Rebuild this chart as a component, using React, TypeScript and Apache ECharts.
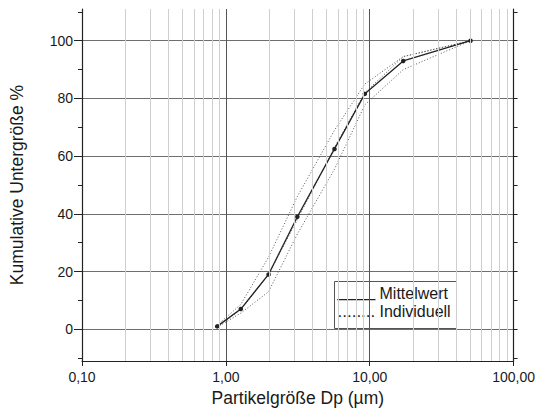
import React, { useEffect, useRef } from 'react';
import * as echarts from 'echarts';

// Particle sizes (µm) at which the cumulative undersize was measured
const sizes = [0.87, 1.27, 1.98, 3.14, 5.69, 9.25, 17.1, 50.2];
// Mean curve (Mittelwert), %
const mean = [1, 7, 19, 39, 62.5, 81.6, 93, 100];
// Individual measurements (Individuell), %
const indiv1 = [1.4, 8.6, 25, 46, 69, 85, 94.5, 100];
const indiv2 = [0.9, 6.8, 19, 38, 63, 82, 94.5, 100];
const indiv3 = [0.7, 5.6, 13, 33, 55.5, 77.8, 90, 100];

// Axis ticks / labels
const yLabelValues = [0, 20, 40, 60, 80, 100];
const yTickValues = [-10, 0, 10, 20, 30, 40, 50, 60, 70, 80, 90, 100, 110];
const minorGridX = [
  0.2, 0.3, 0.4, 0.5, 0.6, 0.7, 0.8, 0.9,
  2, 3, 4, 5, 6, 7, 8, 9,
  20, 30, 40, 50, 60, 70, 80, 90,
];

const FONT = "'Liberation Sans', Arial, Helvetica, sans-serif";

export default function App() {
  const ref = useRef<HTMLDivElement>(null);

  useEffect(() => {
    if (!ref.current) return;
    const chart = echarts.init(ref.current, null, { renderer: 'svg' });
    const toPairs = (arr: number[]) => sizes.map((s, i) => [s, arr[i]]);
    const dotted = {
      type: 'line',
      symbol: 'none',
      showSymbol: false,
      z: 3,
      silent: true,
      lineStyle: { color: '#555', width: 1, type: [1, 2] },
    };

    chart.setOption({
      animation: false,
      textStyle: { fontFamily: FONT },
      grid: { left: 78, right: 20, top: 9, bottom: 53, containLabel: false },
      xAxis: {
        type: 'log',
        logBase: 10,
        min: 0.1,
        max: 100,
        name: 'Partikelgröße Dp (µm)',
        nameLocation: 'middle',
        nameGap: 24,
        nameTextStyle: { fontSize: 17.5, color: '#1a1a1a', fontFamily: FONT },
        axisLine: { show: true, onZero: false, lineStyle: { color: '#222', width: 1.2 } },
        axisTick: { show: true, length: 5, lineStyle: { color: '#222' } },
        axisLabel: {
          fontSize: 14,
          color: '#1a1a1a',
          margin: 9,
          fontFamily: FONT,
          showMinLabel: true,
          showMaxLabel: true,
          formatter: (v: number) => Number(v).toFixed(2).replace('.', ','),
        },
        splitLine: { show: true, lineStyle: { color: '#555', width: 1 } },
      },
      yAxis: [
        {
          type: 'value',
          min: -11,
          max: 111,
          position: 'left',
          name: 'Kumulative Untergröße %',
          nameLocation: 'middle',
          nameGap: 56,
          nameTextStyle: { fontSize: 17.5, color: '#1a1a1a', fontFamily: FONT },
          axisLine: { show: true, lineStyle: { color: '#222', width: 1.2 } },
          axisTick: { show: true, length: 4, customValues: yTickValues, lineStyle: { color: '#222' } },
          axisLabel: { customValues: yLabelValues, fontSize: 14, color: '#1a1a1a', margin: 9, fontFamily: FONT },
          splitLine: { show: true, lineStyle: { color: ['rgba(0,0,0,0)', '#6e6e6e'], width: 1 } },
        },
        {
          type: 'value',
          min: -11,
          max: 111,
          position: 'left',
          axisLine: { show: false },
          axisTick: { show: true, length: 8, customValues: yLabelValues, lineStyle: { color: '#222' } },
          axisLabel: { show: false },
          splitLine: { show: false },
        },
        {
          type: 'value',
          min: -11,
          max: 111,
          position: 'right',
          axisLine: { show: true, lineStyle: { color: '#222', width: 1.2 } },
          axisTick: { show: true, length: 4, customValues: yTickValues, lineStyle: { color: '#222' } },
          axisLabel: { show: false },
          splitLine: { show: false },
        },
      ],
      series: [
        {
          type: 'line',
          data: [],
          z: 1,
          silent: true,
          markLine: {
            silent: true,
            animation: false,
            symbol: ['none', 'none'],
            label: { show: false },
            emphasis: { disabled: true },
            lineStyle: { color: '#cfcfcf', width: 1, type: 'solid' },
            data: minorGridX.map((v) => ({ xAxis: v })),
          },
        },
        { ...dotted, name: 'Individuell 1', data: toPairs(indiv1) },
        { ...dotted, name: 'Individuell 2', data: toPairs(indiv2) },
        { ...dotted, name: 'Individuell 3', data: toPairs(indiv3) },
        {
          type: 'line',
          name: 'Mittelwert',
          data: toPairs(mean),
          z: 4,
          symbol: 'circle',
          symbolSize: 4.5,
          itemStyle: { color: '#222' },
          lineStyle: { color: '#222', width: 1.3 },
        },
      ],
      graphic: [
        {
          type: 'group',
          left: 334,
          top: 281,
          z: 100,
          children: [
            { type: 'rect', shape: { x: 0, y: 0, width: 122, height: 47 }, style: { fill: '#fff', stroke: '#555', lineWidth: 1 } },
            { type: 'text', x: 3, y: 1, style: { text: '____', fontSize: 17, fontFamily: FONT, fill: '#222', verticalAlign: 'top' } },
            { type: 'text', x: 45, y: 4, style: { text: 'Mittelwert', fontSize: 16, fontFamily: FONT, fill: '#1a1a1a', verticalAlign: 'top' } },
            { type: 'text', x: 3, y: 21, style: { text: '........', fontSize: 17, fontFamily: FONT, fill: '#222', verticalAlign: 'top' } },
            { type: 'text', x: 45, y: 22, style: { text: 'Individuell', fontSize: 16, fontFamily: FONT, fill: '#1a1a1a', verticalAlign: 'top' } },
          ],
        },
      ],
    });
    return () => chart.dispose();
  }, []);

  return <div ref={ref} style={{ width: 538, height: 414, position: 'absolute', left: 0, top: 0 }} />;
}
